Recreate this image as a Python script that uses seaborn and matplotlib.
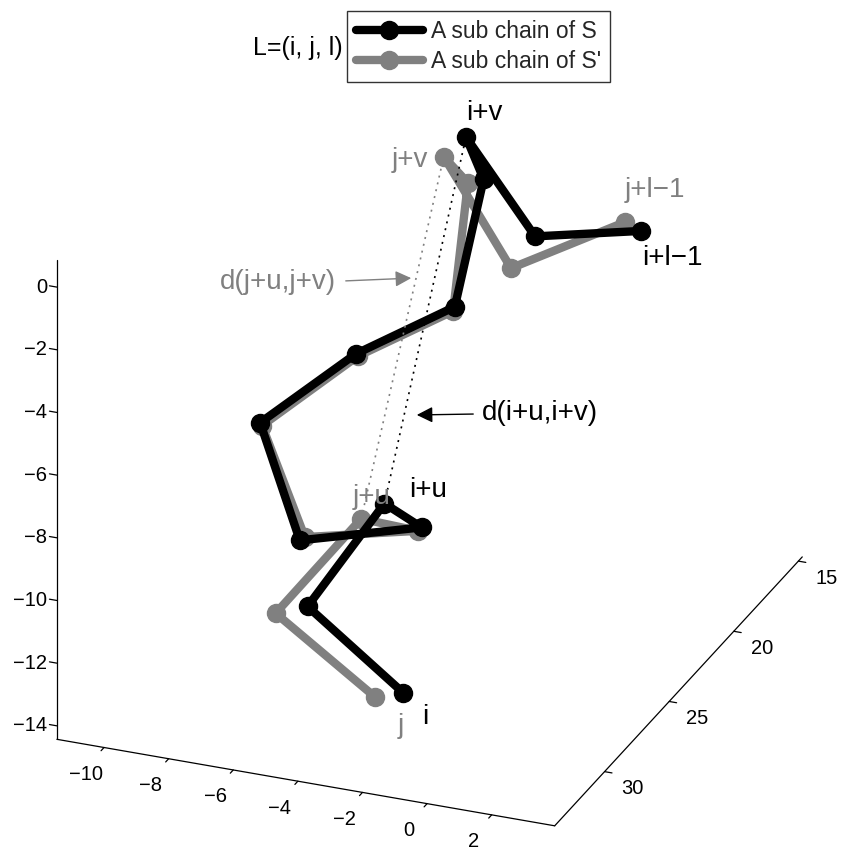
import numpy as np
import matplotlib
matplotlib.use("Agg")
import matplotlib.pyplot as plt
import seaborn as sns
from matplotlib.patches import FancyArrowPatch
from mpl_toolkits.mplot3d import proj3d

# chain S (black), points i ... i+l-1
s_x = [-3.3, -3.8, -4.1, -5.3, -5.5, -5.9, -5.4, -4.8, -4.8, -3.6, -2.4, -1.0]
s_y = [27.47, 33.61, 26.91, 21.03, 29.96, 32.03, 25.88, 19.71, 17.48, 21.85, 19.50, 14.80]
s_z = [-14.34, -8.93, -8.70, -12.31, -8.76, -4.15, -4.62, -5.77, -2.70, 0.82, -3.19, -4.87]

# chain S' (gray), points j ... j+l-1
sp_x = [-3.9, -4.8, -4.6, -5.4, -5.5, -5.9, -5.4, -4.8, -4.8, -4.0, -3.0, -1.4]
sp_y = [28.16, 33.58, 27.46, 21.05, 29.57, 31.88, 25.74, 19.84, 18.70, 22.57, 19.86, 15.08]
sp_z = [-14.27, -9.34, -9.03, -12.43, -8.83, -4.31, -4.76, -5.85, -2.27, 0.44, -4.15, -4.54]

U, V = 2, 9  # offsets u and v inside the chains

x_ticks = [-10, -8, -6, -4, -2, 0, 2]
y_ticks = [15, 20, 25, 30]
z_ticks = [-14, -12, -10, -8, -6, -4, -2, 0]
x_lim = (-11.46, 3.95)
y_lim = (14.7, 33.86)
z_lim = (-14.43, 0.875)

W, H, DPI = 843, 852, 100
GRAY = "#808080"
TICK = 0.23  # tick length, data units

sns.set_theme(style="white")
plt.rcParams["font.family"] = ["Liberation Sans", "DejaVu Sans"]

fig = plt.figure(figsize=(W / DPI, H / DPI), dpi=DPI)
ax = fig.add_axes([-0.2, -0.2, 1.4, 1.4], projection="3d")
ax.set_proj_type("ortho")
ax.view_init(elev=25.75, azim=-68.2)

# y grows toward the viewer in the reference: plot -y and label it back
neg = lambda v: [-t for t in v]
ax.set_xlim(*x_lim)
ax.set_ylim(-y_lim[1], -y_lim[0])
ax.set_zlim(*z_lim)
box = (x_lim[1] - x_lim[0], y_lim[1] - y_lim[0], z_lim[1] - z_lim[0])
ax.set_box_aspect(box)
ax.computed_zorder = False

ax.set_xticks([])
ax.set_yticks([])
ax.set_zticks([])
ax.grid(False)
for axis in (ax.xaxis, ax.yaxis, ax.zaxis):
    axis.set_pane_color((1, 1, 1, 0))
    axis.pane.set_edgecolor((1, 1, 1, 0))
    axis.line.set_color("black")
    axis.line.set_linewidth(0.9)
ax.zaxis.set_ticks_position("lower")
ax.zaxis.set_label_position("lower")

line_kw = dict(lw=6, marker="o", ms=13, solid_joinstyle="round", solid_capstyle="round")
h2, = ax.plot(sp_x, neg(sp_y), sp_z, color=GRAY, mec=GRAY, zorder=2, **line_kw)
h1, = ax.plot(s_x, neg(s_y), s_z, color="black", mec="black", zorder=3, **line_kw)
ax.plot([sp_x[U], sp_x[V]], [-sp_y[U], -sp_y[V]], [sp_z[U], sp_z[V]],
        color=GRAY, lw=1.2, ls=(0, (1.2, 3)), zorder=4)
ax.plot([s_x[U], s_x[V]], [-s_y[U], -s_y[V]], [s_z[U], s_z[V]],
        color="black", lw=1.2, ls=(0, (1.2, 3)), zorder=4)

# outward tick marks
tick_kw = dict(color="black", lw=0.9, zorder=1)
for t in x_ticks:
    ax.plot([t, t], [-y_lim[1], -y_lim[1] - TICK], [z_lim[0]] * 2, **tick_kw)
for t in y_ticks:
    ax.plot([x_lim[1], x_lim[1] + TICK], [-t, -t], [z_lim[0]] * 2, **tick_kw)
for t in z_ticks:
    ax.plot([x_lim[0], x_lim[0] - TICK], [-y_lim[1]] * 2, [t, t], **tick_kw)


# place the projected box where the reference has it (pixels, top-left origin)
def corner_px(x, y, z):
    px, py, _ = proj3d.proj_transform(x, -y, z, ax.get_proj())
    dx, dy = ax.transData.transform((px, py))
    return np.array([dx, H - dy])


corners = [(x_lim[0], y_lim[1], z_lim[0]), (x_lim[1], y_lim[1], z_lim[0]),
           (x_lim[1], y_lim[0], z_lim[0]), (x_lim[0], y_lim[1], z_lim[1])]
targets = np.array([[57.3, 740.0], [552.7, 826.7], [804.0, 553.0], [56.7, 262.0]])

fig.canvas.draw()
got = np.array([corner_px(*c) for c in corners])
scale = np.sqrt(((targets - targets.mean(0)) ** 2).sum() / ((got - got.mean(0)) ** 2).sum())
ax.set_box_aspect(box, zoom=scale)
fig.canvas.draw()
got = np.array([corner_px(*c) for c in corners])
shift = targets.mean(0) - got.mean(0)
pos = ax.get_position()
ax.set_position([pos.x0 + shift[0] / W, pos.y0 - shift[1] / H, pos.width, pos.height])
fig.canvas.draw()


def ftext(x, y, s, color="black", size=20, ha="center"):
    fig.text(x / W, 1 - y / H, s, color=color, fontsize=size, ha=ha, va="center")


def farrow(x0, y0, x1, y1, color):
    fig.add_artist(FancyArrowPatch((x0 / W, 1 - y0 / H), (x1 / W, 1 - y1 / H),
                                   transform=fig.transFigure, arrowstyle="-|>",
                                   mutation_scale=24, color=color, lw=1.0))


# tick labels at the projected tick positions, nudged off the edges
def tick_label(x, y, z, t, dx, dy, ha="center"):
    p = corner_px(x, y, z)
    ftext(p[0] + dx, p[1] + dy, f"{t:g}".replace("-", "\u2212"), size=14.5, ha=ha)


for t in x_ticks:
    tick_label(t, y_lim[1], z_lim[0], t, -18, 27)
for t in y_ticks:
    tick_label(x_lim[1], t, z_lim[0], t, 28, 17)
for t in z_ticks:
    tick_label(x_lim[0], y_lim[1], t, t, -10, 0, ha="right")

ftext(298, 48, "L=(i, j, l)", size=18)
ftext(484, 113, "i+v")
ftext(410, 160, "j+v", GRAY)
ftext(655, 190, "j+l\u22121", GRAY)
ftext(672, 258, "i+l\u22121")
ftext(278, 282, "d(j+u,j+v)", GRAY)
ftext(540, 413, "d(i+u,i+v)")
ftext(372, 497, "j+u", GRAY)
ftext(428, 490, "i+u")
ftext(425, 717, "i")
ftext(401, 726, "j", GRAY)
farrow(343, 281, 414, 278, GRAY)
farrow(476, 414, 414, 415, "black")

leg = fig.legend([h1, h2], ["A sub chain of S", "A sub chain of S'"],
                 loc="upper left", bbox_to_anchor=(347 / W, 1 - 11 / H),
                 fontsize=16.5, handlelength=2.9, frameon=True, fancybox=False,
                 borderaxespad=0, labelspacing=0.3, handletextpad=0.35,
                 borderpad=0.4)
leg.get_frame().set_edgecolor("black")
leg.get_frame().set_linewidth(1.0)

fig.savefig("out.png", dpi=DPI)
